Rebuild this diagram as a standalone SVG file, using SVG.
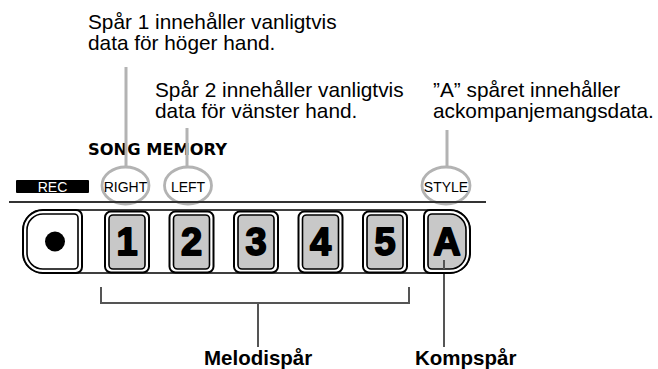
<svg xmlns="http://www.w3.org/2000/svg" width="658" height="369" viewBox="0 0 658 369">
<style>
.ann{font-family:"Liberation Sans",Arial,sans-serif;font-size:20.8px;fill:#000}
.bold{font-family:"Liberation Sans",Arial,sans-serif;font-size:20.5px;font-weight:bold;fill:#000}
.tag{font-family:"Liberation Sans",Arial,sans-serif;font-size:14px;fill:#000;text-anchor:middle}
.num{font-family:"Liberation Sans",Arial,sans-serif;font-size:38px;font-weight:bold;fill:#000;stroke:#000;stroke-width:1.8;stroke-linejoin:round;text-anchor:middle}
.callout{stroke:#b3b3b3;stroke-width:3;fill:none}
.oval{stroke:#b3b3b3;stroke-width:2.8;fill:none}
.dark{stroke:#555;stroke-width:2;fill:none}
.outer{fill:#fff;stroke:#000;stroke-width:2}
.inner{fill:#c8c8c8;stroke:#000;stroke-width:1.6}
</style>
<rect width="658" height="369" fill="#fff"/>

<g id="labels">
<text class="ann" x="88" y="29">Spår 1 innehåller vanligtvis</text>
<text class="ann" x="88" y="50">data för höger hand.</text>
<text class="ann" x="155" y="97">Spår 2 innehåller vanligtvis</text>
<text class="ann" x="155" y="118">data för vänster hand.</text>
<text class="ann" x="433" y="96.5">”A” spåret innehåller</text>
<text class="ann" x="433" y="117.5">ackompanjemangsdata.</text>
<text x="88" y="155" font-family="'DejaVu Sans',sans-serif" font-weight="bold" font-size="16.5" textLength="139" lengthAdjust="spacingAndGlyphs">SONG MEMORY</text>
<text class="bold" x="204" y="365">Melodispår</text>
<text class="bold" x="415" y="365">Kompspår</text>
</g>

<g id="connectors">
<line class="callout" x1="126" y1="67" x2="126" y2="167"/>
<line class="callout" x1="187" y1="128" x2="187" y2="167"/>
<line class="callout" x1="447" y1="130" x2="447" y2="167"/>
<path class="dark" d="M101 287V303H409V287M258 303V347"/>
<line class="dark" x1="444" y1="260" x2="444" y2="347"/>
</g>

<g id="tag-rec">
<rect x="16" y="180" width="73" height="13" rx="1" fill="#000"/>
<text x="52.5" y="191.5" font-family="'Liberation Sans',Arial,sans-serif" font-size="14" fill="#fff" text-anchor="middle">REC</text>
</g>
<g id="tag-right">
<ellipse class="oval" cx="125.5" cy="185.5" rx="23.5" ry="18.5"/>
<text class="tag" x="125.5" y="192">RIGHT</text>
</g>
<g id="tag-left">
<ellipse class="oval" cx="188" cy="185.5" rx="23.5" ry="18.5"/>
<text class="tag" x="188" y="192">LEFT</text>
</g>
<g id="tag-style">
<ellipse class="oval" cx="446" cy="185.5" rx="24" ry="18.5"/>
<text class="tag" x="446" y="192">STYLE</text>
</g>

<line x1="9" y1="202" x2="486" y2="202" stroke="#333" stroke-width="2"/>

<g id="panel">
<path d="M43 210H450A20 20 0 0 1 470 230V253A20 20 0 0 1 450 273H43A20 20 0 0 1 23 253V230A20 20 0 0 1 43 210Z" fill="#fff" stroke="#000" stroke-width="1.3"/>
</g>

<g id="btn-rec">
<path class="outer" d="M43 210H76A6 6 0 0 1 82 216V267A6 6 0 0 1 76 273H43A20 20 0 0 1 23 253V230A20 20 0 0 1 43 210Z"/>
<path d="M43 214H74A4 4 0 0 1 78 218V265A4 4 0 0 1 74 269H43A16 16 0 0 1 27 253V230A16 16 0 0 1 43 214Z" fill="#fff" stroke="#000" stroke-width="1.6"/>
<circle cx="55" cy="241.5" r="10" fill="#000"/>
</g>

<g id="btn-1">
<rect class="outer" x="105" y="211.5" width="44" height="61" rx="6"/>
<rect class="inner" x="109" y="215" width="36" height="54" rx="4"/>
<text class="num" x="127" y="255">1</text>
</g>
<g id="btn-2">
<rect class="outer" x="169.5" y="211.5" width="44" height="61" rx="6"/>
<rect class="inner" x="173.5" y="215" width="36" height="54" rx="4"/>
<text class="num" x="191.5" y="255">2</text>
</g>
<g id="btn-3">
<rect class="outer" x="234" y="211.5" width="44" height="61" rx="6"/>
<rect class="inner" x="238" y="215" width="36" height="54" rx="4"/>
<text class="num" x="256" y="255">3</text>
</g>
<g id="btn-4">
<rect class="outer" x="298.5" y="211.5" width="44" height="61" rx="6"/>
<rect class="inner" x="302.5" y="215" width="36" height="54" rx="4"/>
<text class="num" x="320.5" y="255">4</text>
</g>
<g id="btn-5">
<rect class="outer" x="363" y="211.5" width="44" height="61" rx="6"/>
<rect class="inner" x="367" y="215" width="36" height="54" rx="4"/>
<text class="num" x="385" y="255">5</text>
</g>
<g id="btn-a">
<path class="outer" d="M430 210H450A20 20 0 0 1 470 230V253A20 20 0 0 1 450 273H430A6 6 0 0 1 424 267V216A6 6 0 0 1 430 210Z"/>
<path class="inner" d="M432 214H450A16 16 0 0 1 466 230V253A16 16 0 0 1 450 269H432A4 4 0 0 1 428 265V218A4 4 0 0 1 432 214Z"/>
<text class="num" x="447" y="255" font-size="35">A</text>
<line class="dark" x1="444" y1="260" x2="444" y2="269"/>
</g>
</svg>
